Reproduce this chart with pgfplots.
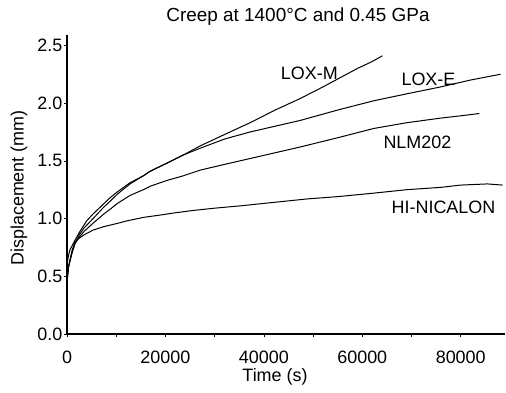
\documentclass[border=0pt]{standalone}
\usepackage{fontspec}
\setmainfont{Liberation Sans}
\usepackage{pgfplots}
\pgfplotsset{compat=1.18}
\begin{document}
\begin{tikzpicture}[font=\fontsize{18}{20}\selectfont]
\begin{axis}[name=ax, scale only axis, width=438bp, height=299bp,
  xmin=0, xmax=89000, ymin=0, ymax=2.59,
  axis x line*=bottom, axis y line*=left,
  axis line style={-, line width=1.4bp},
  xtick={0,20000,40000,60000,80000},
  minor xtick={10000,30000,50000,70000},
  ytick={0,0.5,1,1.5,2,2.5},
  scaled x ticks=false,
  /pgf/number format/assume math mode=true,
  x tick label style={/pgf/number format/1000 sep={}, inner sep=0pt, yshift=-14bp},
  y tick label style={inner sep=1.5bp, /pgf/number format/fixed, /pgf/number format/fixed zerofill, /pgf/number format/precision=1},
  tick align=outside, major tick length=3bp, minor tick length=2.5bp,
  tick style={black, line width=0.6bp},
  clip=false,
]
% LOX-M
\addplot[black, line width=1bp, line join=round] coordinates {(0,0) (0,0.6) (300,0.68) (600,0.73) (1600,0.81) (2650,0.89) (4000,0.98) (5300,1.04) (7500,1.13) (8750,1.18) (10200,1.23) (12800,1.31) (15500,1.37) (16900,1.41) (20300,1.48) (23600,1.55) (27100,1.63) (32100,1.73) (37200,1.83) (42300,1.94) (47400,2.04) (52000,2.14) (55500,2.22) (59000,2.30) (62000,2.36) (64100,2.41)};
% LOX-E
\addplot[black, line width=1bp, line join=round] coordinates {(0,0) (0,0.45) (300,0.58) (1000,0.70) (1600,0.78) (2500,0.86) (3500,0.92) (5300,1.00) (7500,1.10) (8750,1.15) (10200,1.21) (12800,1.30) (15500,1.37) (16900,1.41) (20300,1.48) (23600,1.55) (27100,1.61) (32100,1.69) (37200,1.75) (42300,1.80) (47400,1.85) (55000,1.94) (62300,2.02) (69000,2.08) (75900,2.14) (82000,2.20) (88100,2.25)};
% NLM202
\addplot[black, line width=1bp, line join=round] coordinates {(0,0) (0,0.45) (300,0.58) (1000,0.70) (1600,0.78) (2500,0.84) (3500,0.89) (5300,0.96) (7500,1.04) (8750,1.08) (10200,1.13) (12800,1.20) (15500,1.25) (16900,1.28) (20300,1.33) (23600,1.37) (27100,1.42) (32100,1.47) (37200,1.52) (42300,1.57) (47400,1.62) (55000,1.70) (62300,1.78) (69000,1.83) (75900,1.87) (80000,1.89) (83800,1.91)};
% HI-NICALON
\addplot[black, line width=1bp, line join=round] coordinates {(0,0) (0,0.45) (300,0.58) (1000,0.72) (1600,0.80) (2500,0.83) (3500,0.86) (5300,0.90) (7500,0.93) (10400,0.96) (12200,0.98) (15500,1.01) (18900,1.03) (22000,1.05) (25600,1.07) (30000,1.09) (35200,1.11) (42000,1.14) (48800,1.17) (55000,1.19) (62300,1.22) (69000,1.25) (75900,1.27) (80000,1.29) (85400,1.30) (88500,1.29)};
\node at (axis cs:49240,2.26) {LOX-M};
\node at (axis cs:73450,2.21) {LOX-E};
\node at (axis cs:71200,1.66) {NLM202};
\node at (axis cs:76500,1.10) {HI-NICALON};
\end{axis}
\node at ([xshift=208bp, yshift=-43bp]ax.south west) {Time (s)};
\node[rotate=90] at ([xshift=-48bp, yshift=146bp]ax.south west) {Displacement (mm)};
\node[font=\fontsize{19}{21}\selectfont] at ([xshift=231bp, yshift=18bp]ax.north west) {Creep at 1400°C and 0.45 GPa};
\pgfresetboundingbox
\path ([xshift=-67bp, yshift=-58bp]ax.south west) rectangle ([xshift=1bp, yshift=35bp]ax.north east);
\end{tikzpicture}
\end{document}
